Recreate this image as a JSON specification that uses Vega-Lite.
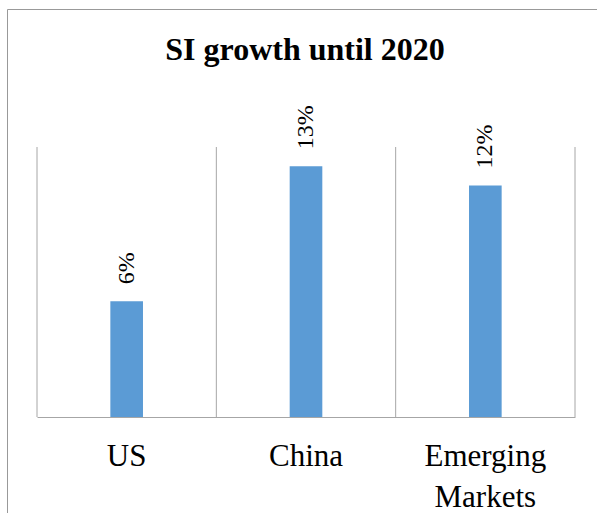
{
  "$schema": "https://vega.github.io/schema/vega-lite/v6.json",
  "autosize": {"type": "none"},
  "padding": {"left": 7, "top": 9, "right": 0, "bottom": 0},
  "width": 590,
  "height": 504,
  "background": "white",
  "config": {
    "view": {"stroke": "#999999", "strokeWidth": 1},
    "font": "Liberation Serif"
  },
  "title": {
    "text": "SI growth until 2020",
    "font": "Liberation Serif",
    "fontSize": 32,
    "fontWeight": "bold",
    "color": "black",
    "anchor": "middle",
    "frame": "group",
    "baseline": "alphabetic",
    "offset": -83,
    "dx": 3
  },
  "data": {
    "values": [
      {"region": "US", "growth": 0.06},
      {"region": "China", "growth": 0.13},
      {"region": "Emerging Markets", "growth": 0.12}
    ]
  },
  "encoding": {
    "x": {
      "field": "region",
      "type": "nominal",
      "sort": null,
      "scale": {"range": [30, 568], "paddingInner": 0, "paddingOuter": 0},
      "axis": {
        "title": null,
        "grid": false,
        "ticks": false,
        "tickSize": 0,
        "domain": true,
        "domainColor": "#a6a6a6",
        "domainWidth": 1,
        "offset": -96,
        "labelAngle": 0,
        "labelFont": "Liberation Serif",
        "labelFontSize": 31,
        "labelColor": "black",
        "labelPadding": 24,
        "labelLineHeight": 41,
        "labelLimit": 0,
        "labelOverlap": false,
        "labelExpr": "split(datum.label, ' ')"
      }
    },
    "y": {
      "field": "growth",
      "type": "quantitative",
      "scale": {"domain": [0, 0.14], "range": [408, 138], "nice": false, "zero": true},
      "axis": null
    }
  },
  "layer": [
    {
      "mark": {"type": "rule", "color": "#a6a6a6", "strokeWidth": 1},
      "encoding": {
        "x": {"field": "region", "type": "nominal", "sort": null, "bandPosition": 0},
        "y": {"datum": 0},
        "y2": {"datum": 0.14}
      }
    },
    {
      "transform": [{"filter": "datum.region == 'Emerging Markets'"}],
      "mark": {"type": "rule", "color": "#a6a6a6", "strokeWidth": 1},
      "encoding": {
        "x": {"field": "region", "type": "nominal", "sort": null, "bandPosition": 1},
        "y": {"datum": 0},
        "y2": {"datum": 0.14}
      }
    },
    {
      "mark": {"type": "bar", "color": "#5B9BD5", "width": {"band": 0.182}}
    },
    {
      "mark": {
        "type": "text",
        "angle": 270,
        "align": "left",
        "baseline": "middle",
        "dx": 17,
        "font": "Liberation Serif",
        "fontSize": 24,
        "color": "black"
      },
      "encoding": {
        "text": {"field": "growth", "type": "quantitative", "format": ".0%"}
      }
    }
  ]
}
